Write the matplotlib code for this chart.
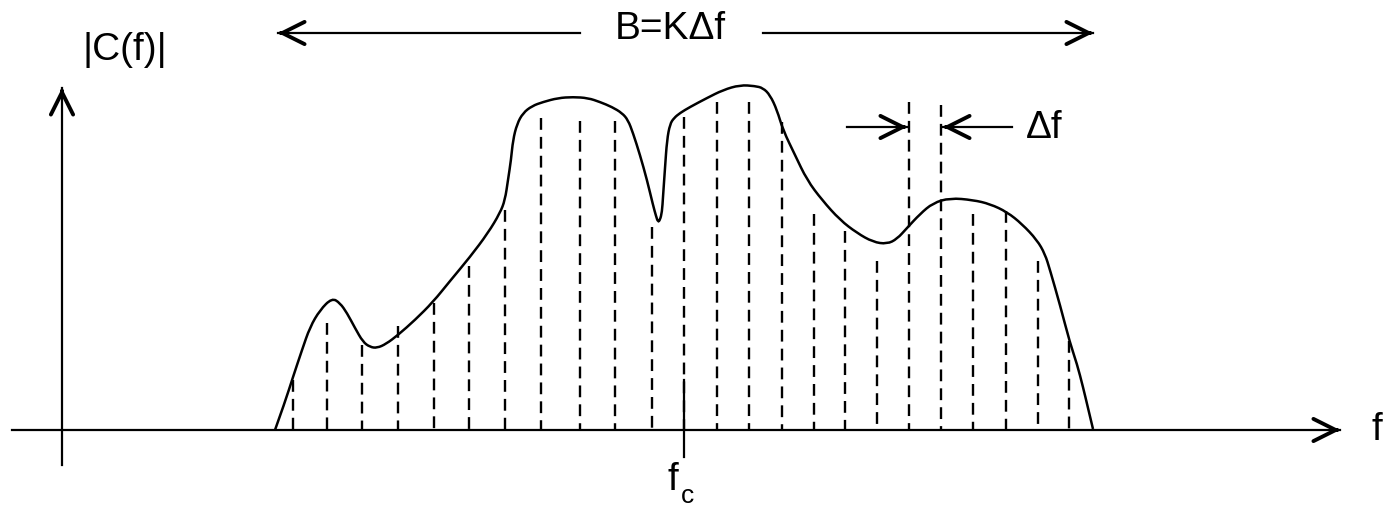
import matplotlib
matplotlib.use('Agg')
import matplotlib.pyplot as plt
from matplotlib.path import Path
from matplotlib.patches import PathPatch

plt.rcParams['font.family'] = ['Liberation Sans', 'DejaVu Sans']

# огибающая |C(f)| (пиксельные координаты картинки, y вниз)
curve_x = [275, 285, 293, 302, 310, 320, 332, 340, 347, 355, 363, 370, 377, 386,
           398, 415, 433, 450, 470, 488, 500, 505, 508, 511, 513, 517, 523, 532,
           543, 558, 573, 588, 600, 612, 622, 628, 633, 640, 647, 653, 656, 658,
           660, 662, 663, 665, 667, 670, 674, 680, 690, 707, 723, 740, 755, 763,
           770, 777, 783, 795, 807, 822, 840, 857, 873, 887, 897, 907, 920, 933,
           950, 973, 990, 1007, 1022, 1037, 1045, 1050, 1060, 1070, 1077, 1083, 1088, 1093]
curve_y = [430, 402, 377, 350, 327, 310, 298, 303, 313, 328, 342, 347, 348, 344,
           335, 320, 302, 281, 257, 233, 213, 200, 180, 160, 140, 124, 113, 106,
           102, 98, 97, 98, 102, 107, 113, 120, 133, 155, 180, 205, 216, 222,
           220, 212, 197, 168, 140, 124, 118, 113, 107, 98, 90, 85, 86, 88,
           95, 110, 130, 155, 180, 200, 220, 233, 242, 244, 239, 228, 214, 203,
           198, 200, 204, 212, 224, 240, 254, 270, 305, 343, 364, 387, 408, 429]

# дискретные частоты (пунктир) и высота каждой линии
line_x = [293, 327, 362, 398, 434, 469, 505, 541, 580, 615, 652, 684,
          717, 749, 782, 814, 845, 877, 909, 941, 973, 1006, 1038, 1069]
line_top = [380, 323, 345, 326, 303, 266, 210, 118, 121, 121, 227, 117,
            102, 102, 122, 214, 231, 261, 102, 105, 214, 211, 261, 341]

base_y = 430

fig = plt.figure(figsize=(13.97, 5.09), dpi=100)
ax = fig.add_axes([0, 0, 1, 1])
ax.set_xlim(0, 1397)
ax.set_ylim(509, 0)
ax.axis('off')

# пунктирные линии
for x, top in zip(line_x, line_top):
    ax.plot([x, x], [top, base_y], color='black', lw=1.7, linestyle=(0, (5, 3)))

# кривая: квадратичные сегменты через середины (сглаживание)
pts = list(zip(curve_x, curve_y))
verts = [pts[0]]
codes = [Path.MOVETO]
for i in range(1, len(pts) - 1):
    mid = ((pts[i][0] + pts[i + 1][0]) / 2, (pts[i][1] + pts[i + 1][1]) / 2)
    verts += [pts[i], mid]
    codes += [Path.CURVE3, Path.CURVE3]
verts.append(pts[-1])
codes.append(Path.LINETO)
ax.add_patch(PathPatch(Path(verts, codes), fill=False, lw=1.8, edgecolor='black'))


def arrow(tip, tail):
    # тонкий стержень + жирная голова стрелки
    ax.plot([tail[0], tip[0]], [tail[1], tip[1]], color='black', lw=1.6)
    dx = tip[0] - tail[0]
    dy = tip[1] - tail[1]
    n = (dx ** 2 + dy ** 2) ** 0.5
    back = (tip[0] - dx / n * 4, tip[1] - dy / n * 4)
    ax.annotate('', xy=tip, xytext=back,
                arrowprops=dict(arrowstyle='->,head_length=0.8,head_width=0.4', lw=2.8,
                                color='black', mutation_scale=20, shrinkA=0, shrinkB=0))


# оси
arrow((1340, base_y), (12, base_y))
arrow((62, 88), (62, 465))

# метка f_c
ax.plot([684, 684], [380, 457], color='black', lw=1.6)

# полоса B
arrow((278, 33), (580, 33))
arrow((1093, 33), (763, 33))

# шаг delta f
arrow((907, 127), (847, 127))
arrow((943, 127), (1012, 127))

fs = 28
ax.text(82, 50, '|C(f)|', fontsize=fs, ha='left', va='center')
ax.text(670, 29, 'B=K\u0394f', fontsize=fs, ha='center', va='center')
ax.text(1026, 128, '\u0394f', fontsize=fs, ha='left', va='center')
ax.text(1372, 430, 'f', fontsize=fs, ha='left', va='center')
ax.text(668, 480, 'f', fontsize=fs, ha='left', va='center')
ax.text(681, 496, 'c', fontsize=19, ha='left', va='center')

plt.savefig('out.png', dpi=100)
